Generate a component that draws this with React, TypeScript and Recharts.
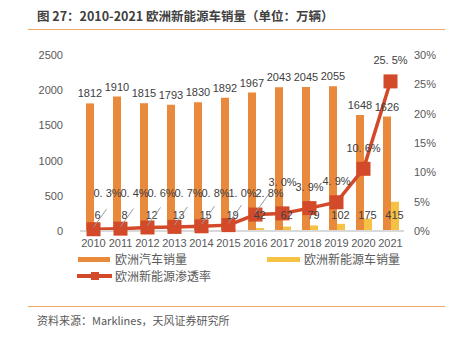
import React from 'react';
import { ComposedChart, Bar, Line, XAxis, YAxis, LabelList } from 'recharts';

const years = ['2010', '2011', '2012', '2013', '2014', '2015', '2016', '2017', '2018', '2019', '2020', '2021'];
const totalSales = [1812, 1910, 1815, 1793, 1830, 1892, 1967, 2043, 2045, 2055, 1648, 1626];
const nevSales = [6, 8, 12, 13, 15, 19, 42, 62, 79, 102, 175, 415];
const penetration = [0.3, 0.4, 0.6, 0.7, 0.8, 1.0, 2.8, 3.0, 3.9, 4.9, 10.6, 25.5];
const leftTicks = [0, 500, 1000, 1500, 2000, 2500];
const rightTicks = [0, 5, 10, 15, 20, 25, 30];

const data = years.map((y, i) => ({
    year: y,
    total: totalSales[i],
    nev: nevSales[i],
    rate: penetration[i],
}));

const ORANGE = '#e8893b';
const YELLOW = '#f6c244';
const RED = '#d24a2a';
const TEXT = '#404040';
const FONT = '"Liberation Sans", "Noto Sans CJK SC", sans-serif';

const PLOT_TOP = 55;
const PLOT_H = 176;
const PLOT_BOTTOM = PLOT_TOP + PLOT_H;

const SquareDot = (props: any) => {
    const { cx, cy } = props;
    if (cx == null || cy == null) return null;
    return <rect x={cx - 7} y={cy - 7} width={14} height={14} fill={RED} />;
};

const fmtPct = (v: number) => v.toFixed(1).replace('.', '. ') + '%';

// early years get a leader line and sit up-right, later ones sit above the marker
const RateLabel = (props: any) => {
    const { x, y, value, index } = props;
    if (index <= 6) {
        return (
            <g>
                <line x1={x} y1={y - 2} x2={x + 13} y2={y - 20} stroke="#999" strokeWidth={1} />
                <text x={x + 14} y={PLOT_BOTTOM - 34} textAnchor="middle" fontSize={11} fill={TEXT} fontFamily={FONT}>
                    {fmtPct(value)}
                </text>
            </g>
        );
    }
    // 2017 sits right next to the 2016 label, lift it a little
    const lift = index === 7 ? 27 : 17;
    return (
        <text x={x} y={y - lift} textAnchor="middle" fontSize={11} fill={TEXT} fontFamily={FONT}>
            {fmtPct(value)}
        </text>
    );
};

const NevLabel = (props: any) => {
    const { x, value } = props;
    return (
        <text x={x + 4} y={PLOT_BOTTOM - 12} textAnchor="middle" fontSize={11} fill={TEXT} fontFamily={FONT}>
            {value}
        </text>
    );
};

const legendText: React.CSSProperties = {
    position: 'absolute',
    fontSize: 12,
    color: '#595959',
    fontFamily: FONT,
    lineHeight: '14px',
};

export default function App() {
    return (
        <div style={{ position: 'absolute', left: 0, top: 0, width: 450, height: 337, background: '#fff', fontFamily: FONT }}>
            <div style={{ position: 'absolute', left: 37, top: 7, fontSize: 12.5, fontWeight: 'bold', color: TEXT, fontFamily: '"Noto Sans CJK SC", sans-serif', lineHeight: '18px' }}>
                图 27：2010-2021 欧洲新能源车销量（单位：万辆）
            </div>
            <div style={{ position: 'absolute', left: 28, top: 29, width: 417, height: 1, background: '#f0a868' }} />

            <div style={{ position: 'absolute', left: 0, top: 0 }}>
                <ComposedChart
                    width={450}
                    height={256}
                    data={data}
                    margin={{ top: PLOT_TOP, right: 0, left: 0, bottom: 5 }}
                    barCategoryGap="20%"
                    barGap={0}
                >
                    <XAxis
                        dataKey="year"
                        axisLine={{ stroke: '#d9d9d9', strokeWidth: 2 }}
                        tickLine={false}
                        tick={{ fontSize: 11, fill: '#595959', fontFamily: FONT }}
                        interval={0}
                        height={20}
                    />
                    <YAxis
                        yAxisId="left"
                        domain={[0, 2500]}
                        ticks={leftTicks}
                        width={80}
                        axisLine={false}
                        tickLine={false}
                        tickMargin={11}
                        tick={{ fontSize: 11, fill: '#595959', fontFamily: FONT }}
                    />
                    <YAxis
                        yAxisId="right"
                        orientation="right"
                        domain={[0, 30]}
                        ticks={rightTicks}
                        width={46}
                        axisLine={false}
                        tickLine={false}
                        tickMargin={4}
                        tickFormatter={(v) => v + '%'}
                        tick={{ fontSize: 11, fill: '#595959', fontFamily: FONT, textAnchor: 'start' }}
                    />
                    <Bar yAxisId="left" dataKey="total" fill={ORANGE} barSize={8} isAnimationActive={false}>
                        <LabelList dataKey="total" position="top" offset={6} fontSize={11} fill={TEXT} fontFamily={FONT} />
                    </Bar>
                    <Bar yAxisId="left" dataKey="nev" fill={YELLOW} barSize={8} isAnimationActive={false} />
                    <Line
                        yAxisId="right"
                        type="linear"
                        dataKey="rate"
                        stroke={RED}
                        strokeWidth={3.5}
                        dot={<SquareDot />}
                        activeDot={false}
                        isAnimationActive={false}
                    >
                        <LabelList dataKey="nev" content={<NevLabel />} />
                        <LabelList dataKey="rate" content={<RateLabel />} />
                    </Line>
                </ComposedChart>
            </div>

            {/* legend */}
            <div style={{ position: 'absolute', left: 78, top: 257, width: 32, height: 5, background: ORANGE }} />
            <div style={{ ...legendText, left: 115, top: 253 }}>欧洲汽车销量</div>
            <div style={{ position: 'absolute', left: 267, top: 257, width: 33, height: 5, background: YELLOW }} />
            <div style={{ ...legendText, left: 304, top: 253 }}>欧洲新能源车销量</div>
            <div style={{ position: 'absolute', left: 77, top: 274, width: 35, height: 4, background: RED }} />
            <div style={{ position: 'absolute', left: 91, top: 272, width: 8, height: 8, background: RED }} />
            <div style={{ ...legendText, left: 115, top: 270 }}>欧洲新能源渗透率</div>

            <div style={{ position: 'absolute', left: 28, top: 306, width: 417, height: 1, background: '#f0a868' }} />
            <div style={{ position: 'absolute', left: 37, top: 313, fontSize: 11, color: '#595959', fontFamily: '"Noto Sans CJK SC", sans-serif', lineHeight: '14px' }}>
                资料来源：Marklines，天风证券研究所
            </div>
        </div>
    );
}
